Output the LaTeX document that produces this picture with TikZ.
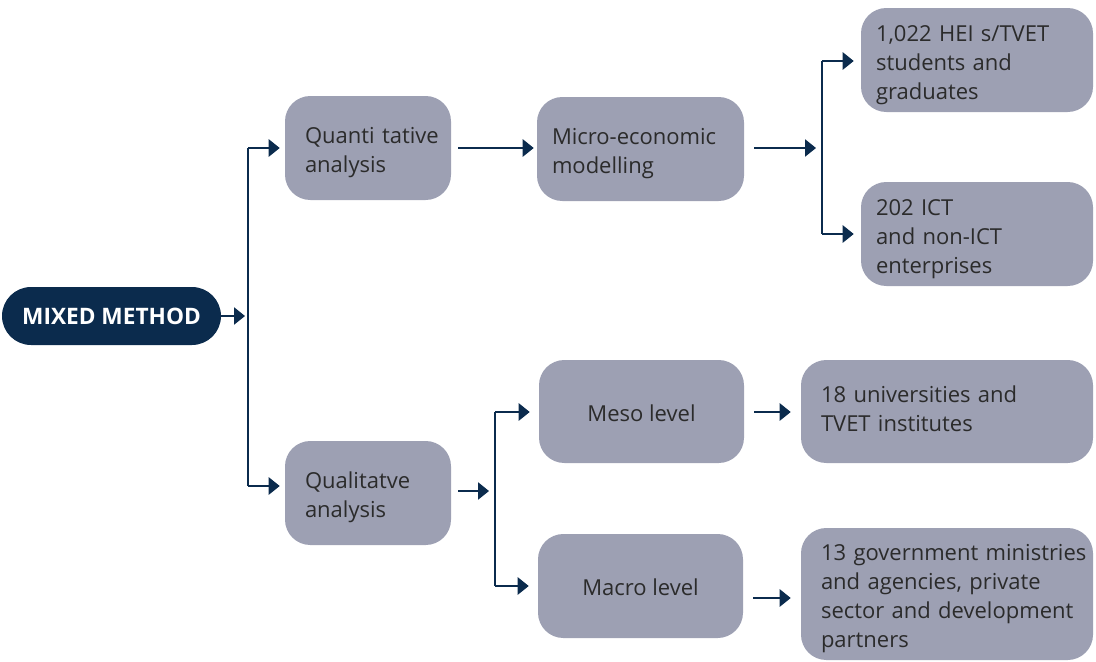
\documentclass[tikz,border=0pt]{standalone}
\usepackage{fontspec}
\setmainfont{Open Sans}
\usetikzlibrary{arrows.meta}
\definecolor{navy}{HTML}{0B2B4D}
\definecolor{boxfill}{HTML}{9DA0B3}
\definecolor{txt}{HTML}{2B2B2B}
\newcommand\fst{\rule{0pt}{19pt}}
\newcommand\sst{\rule{0pt}{15pt}}
\newcommand\nohy{\hyphenpenalty=10000\relax\exhyphenpenalty=10000\relax}
\newcommand\ia{\hspace*{15pt}}
\newcommand\ib{\hspace*{11.25pt}}
\begin{document}
\begin{tikzpicture}[x=0.75pt,y=-0.75pt,
  box/.style={fill=boxfill, rounded corners=19pt, inner ysep=0pt, inner xsep=0pt, minimum height=78pt,
    align=left, text=txt, font=\fontsize{16.5}{21.75}\selectfont\nohy},
  cbox/.style={box, inner xsep=5pt, align=center},
  pill/.style={fill=navy, rounded corners=21.75pt, minimum width=164.25pt, minimum height=43.5pt,
    text=white, font=\fontsize{17}{18}\selectfont\bfseries},
  ln/.style={draw=navy, line width=1.1pt},
  arr/.style={ln, -{Triangle[length=8.25pt,width=13pt]}},
]
\useasboundingbox (0,0) rectangle (1096,661);

\node[pill] (mm) at (111.5,316) {MIXED METHOD};

\node[box, text width=124.5pt] (quant) at (368,148) {\ia\fst Quanti tative\\\ia analysis};
\node[box, text width=124.5pt] (qual) at (368,493) {\ia\fst Qualitatve\\\ia analysis};
\node[box, text width=155.25pt] (micro) at (640.5,149) {\ib\fst Micro-economic\\\ib modelling};
\node[box, text width=174pt] (stud) at (977,60) {\ib\fst 1,022 HEI s/TVET\\\ib students and\\\ib graduates};
\node[box, text width=174pt] (ent) at (977,234) {\ib\fst 202 ICT\\\ib and non-ICT\\\ib enterprises};
\node[cbox, minimum width=153.75pt, minimum height=77.25pt] (meso) at (641.5,411.5) {\sst Meso level};
\node[cbox, minimum width=153.75pt] (macro) at (640.5,586) {\sst Macro level};
\node[box, text width=219pt, minimum height=77.25pt] (univ) at (947,411.5) {\ia\fst 18 universities and\\\ia TVET institutes\rule[-11pt]{0pt}{11pt}};
\node[box, text width=219pt, minimum height=99pt] (gov) at (947,594) {\ia\fst 13 government ministries\\\ia and agencies, private\\\ia sector and development\\\ia partners};

% junction 1
\coordinate (j1in) at (245,316);
\coordinate (j1t) at (248,148);
\coordinate (j1b) at (248,486);
\draw[arr] (mm.east) -- (j1in);
\draw[ln] (j1t) -- (j1b);
\draw[arr, shorten >=3.75pt] (j1t) -- (j1t -| quant.west);
\draw[arr, shorten >=3.75pt] (j1b) -- (j1b -| qual.west);

\draw[arr, shorten <=5.25pt, shorten >=2.25pt] (quant.east |- 0,148) -- (micro.west |- 0,148);

% junction 2
\coordinate (j2in) at (816,148);
\coordinate (j2t) at (822,61);
\coordinate (j2b) at (822,234);
\draw[arr, shorten <=7.5pt] (micro.east |- j2in) -- (j2in);
\draw[ln] (j2t) -- (j2b);
\draw[arr, shorten >=5.25pt] (j2t) -- (j2t -| stud.west);
\draw[arr, shorten >=5.25pt] (j2b) -- (j2b -| ent.west);

% junction 3
\coordinate (j3in) at (489,491);
\coordinate (j3t) at (495,412);
\coordinate (j3b) at (495,586);
\draw[arr, shorten <=5.25pt] (qual.east |- j3in) -- (j3in);
\draw[ln] (j3t) -- (j3b);
\draw[arr, shorten >=6.75pt] (j3t) -- (j3t -| meso.west);
\draw[arr, shorten >=6.75pt] (j3b) -- (j3b -| macro.west);

\draw[arr, shorten <=7.5pt, shorten >=7.5pt] (meso.east |- 0,412) -- (univ.west |- 0,412);
\draw[arr, shorten <=7.5pt, shorten >=7.5pt] (macro.east |- 0,598) -- (gov.west |- 0,598);
\end{tikzpicture}
\end{document}
